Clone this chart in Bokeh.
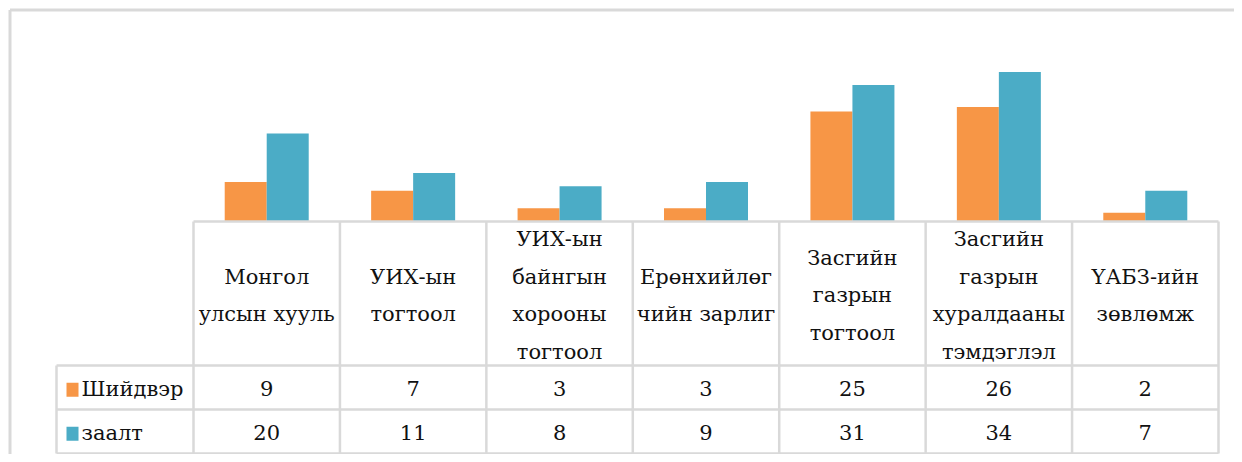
from bokeh.plotting import figure
from bokeh.models import ColumnDataSource
from bokeh.transform import dodge
from bokeh.core.properties import value
from bokeh.embed import file_html
from bokeh.resources import INLINE

categories = ["Монгол\nулсын хууль", "УИХ-ын\nтогтоол", "УИХ-ын\nбайнгын\nхорооны\nтогтоол",
              "Ерөнхийлөг\nчийн зарлиг", "Засгийн\nгазрын\nтогтоол",
              "Засгийн\nгазрын\nхуралдааны\nтэмдэглэл", "ҮАБЗ-ийн\nзөвлөмж"]
series_names = ["Шийдвэр", "заалт"]
shiidver = [9, 7, 3, 3, 25, 26, 2]
zaalt = [20, 11, 8, 9, 31, 34, 7]
colors = ["#F79646", "#4BACC6"]

n = len(categories)
FONT = "DejaVu Serif"
FS = "21px"
TXT = "#111111"
GRID = "#d9d9d9"

W, H = 1234, 454
PLOT_X0, PLOT_X1, BASE_Y = 193, 1218, 221
PX_PER_UNIT = 4.4
cat_w = (PLOT_X1 - PLOT_X0) / n

def ux(px):
    return (px - PLOT_X0) / cat_w

def uy(py):
    return (BASE_Y - py) / PX_PER_UNIT

p = figure(width=W, height=H, output_backend="svg", toolbar_location=None,
           x_range=(ux(0), ux(W)), y_range=(uy(H), uy(0)),
           min_border_left=0, min_border_top=0, min_border_right=0, min_border_bottom=0)
p.axis.visible = False
p.grid.visible = False
p.outline_line_color = None
p.border_fill_color = "white"
p.background_fill_color = "white"

# outer frame (top and left edges visible)
p.segment(x0=[ux(9.5), ux(9.5)], y0=[uy(9.5), uy(9.5)], x1=[ux(9.5), ux(W + 5)],
          y1=[uy(H + 5), uy(9.5)], line_color=GRID, line_width=3)

xs = [i + 0.5 for i in range(n)]
src = ColumnDataSource(dict(x=xs, s=shiidver, z=zaalt))
bw = 42 / cat_w
p.vbar(x=dodge("x", -bw / 2), top="s", bottom=0, width=bw, source=src,
       fill_color=colors[0], line_color=None)
p.vbar(x=dodge("x", bw / 2), top="z", bottom=0, width=bw, source=src,
       fill_color=colors[1], line_color=None)

# data table grid
y_hdr_bot = uy(365)
y_row1 = uy(409)
y_bot = uy(453)
x_leg = ux(56)
x0s, y0s, x1s, y1s = [], [], [], []
x0s += [0, x_leg, x_leg, x_leg]; x1s += [n, n, n, n]
y0s += [0, y_hdr_bot, y_row1, y_bot]; y1s += [0, y_hdr_bot, y_row1, y_bot]
for i in range(n + 1):
    x0s.append(i); x1s.append(i); y0s.append(0); y1s.append(y_bot)
x0s.append(x_leg); x1s.append(x_leg); y0s.append(y_hdr_bot); y1s.append(y_bot)
p.segment(x0=x0s, y0=y0s, x1=x1s, y1=y1s, line_color=GRID, line_width=2.5)

# header labels
p.text(x=xs, y=[uy(295)] * n, text=categories, text_font=value(FONT),
       text_font_size=FS, text_align="center", text_baseline="middle",
       text_line_height=1.57, text_color=TXT)

# values
row_y = [uy(388), uy(432)]
for vals, ry in zip([shiidver, zaalt], row_y):
    p.text(x=xs, y=[ry] * n, text=[str(v) for v in vals], text_font=value(FONT),
           text_font_size=FS, text_align="center", text_baseline="middle",
           text_color=TXT)

# legend keys in the table
sq_w = 12 / cat_w
for name, col, ry in zip(series_names, colors, row_y):
    p.rect(x=[ux(72)], y=[ry - 0.3], width=sq_w, height=14 / PX_PER_UNIT,
           fill_color=col, line_color=None)
    p.text(x=[ux(81)], y=[ry], text=[name], text_font=value(FONT),
           text_font_size=FS, text_align="left", text_baseline="middle",
           text_color=TXT)

open("out.html", "w").write(file_html(p, INLINE))
